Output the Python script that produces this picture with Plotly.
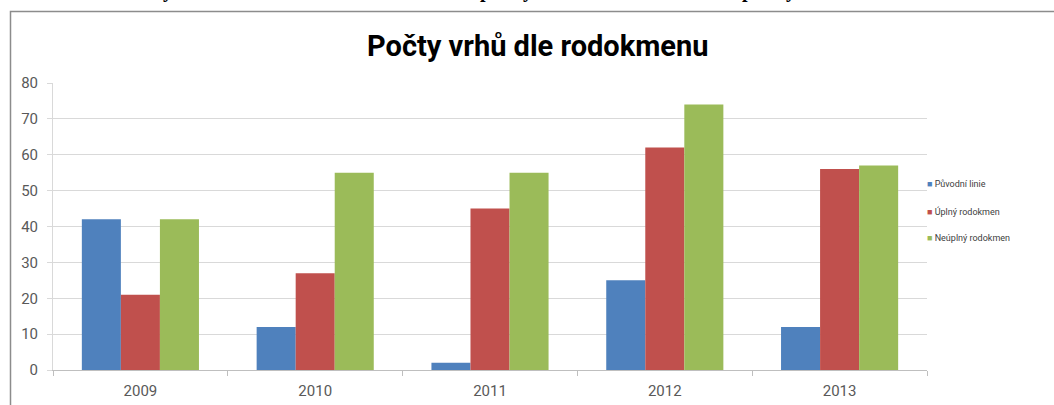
import plotly.graph_objects as go

# data
years = ["2009", "2010", "2011", "2012", "2013"]
puvodni_linie = [42, 12, 2, 25, 12]
uplny_rodokmen = [21, 27, 45, 62, 56]
neuplny_rodokmen = [42, 55, 55, 74, 57]

series_names = ["Původní linie", "Úplný rodokmen", "Neúplný rodokmen"]
series_colors = ["#4f81bd", "#c0504d", "#9bbb59"]
y_ticks = [0, 10, 20, 30, 40, 50, 60, 70, 80]

# fragments of the document line cut off above the chart
top_fragments = ["y", "p", "y", "p", "y"]
top_fragment_x = [168, 485, 528, 747, 791]

W, H = 1054, 405
PX0, PX1, PY0, PY1 = 53, 927, 83, 370   # plot area in window pixels
pw, ph = PX1 - PX0, PY1 - PY0


def px_x(x):
    return (x - PX0) / pw


def px_y(y):
    return (PY1 - y) / ph


fig = go.Figure()
for name, vals, color in zip(series_names, [puvodni_linie, uplny_rodokmen, neuplny_rodokmen], series_colors):
    fig.add_trace(go.Bar(x=years, y=vals, name=name, marker_color=color,
                         marker_line_width=0, showlegend=False))

fig.update_layout(
    width=W, height=H,
    margin=dict(l=PX0, r=W - PX1, t=PY0, b=H - PY1),
    paper_bgcolor="white", plot_bgcolor="white",
    barmode="group", bargap=0.33, bargroupgap=0,
    font=dict(family="Roboto, Open Sans, sans-serif", color="#595959"),
)
fig.update_yaxes(range=[0, 80], tickvals=y_ticks, showgrid=True, gridcolor="#d9d9d9", gridwidth=1,
                 showline=True, linecolor="#d9d9d9", ticks="outside", ticklen=5, tickcolor="#d9d9d9",
                 tickfont=dict(size=15, color="#595959"), ticklabelstandoff=6, zeroline=False,
                 automargin=False, fixedrange=True)
fig.update_xaxes(showline=True, linecolor="#bfbfbf", ticks="outside", ticklen=5, tickcolor="#bfbfbf",
                 tickson="boundaries", tickfont=dict(size=15, color="#595959"), ticklabelstandoff=7,
                 automargin=False)

# title
fig.add_annotation(text="<b>Počty vrhů dle rodokmenu</b>", xref="paper", yref="paper",
                   x=px_x(538), y=px_y(46), xanchor="center", yanchor="middle", showarrow=False,
                   font=dict(size=29, color="#000000", family="Roboto, sans-serif"))

# legend on the right
legend_y = [184, 211, 238]
for name, color, ly in zip(series_names, series_colors, legend_y):
    fig.add_annotation(text=f"<span style='color:{color}'>■</span> {name}", xref="paper", yref="paper",
                       x=px_x(925), y=px_y(ly), xanchor="left", yanchor="middle", showarrow=False,
                       font=dict(size=9, color="#404040"))

# chart frame
fig.add_shape(type="rect", xref="paper", yref="paper", x0=px_x(10.5), x1=px_x(1100),
              y0=px_y(460), y1=px_y(11.5), line=dict(color="#8c8c8c", width=1.5), layer="below")

for ch, fx in zip(top_fragments, top_fragment_x):
    fig.add_annotation(text=f"<b>{ch}</b>", xref="paper", yref="paper", x=px_x(fx), y=px_y(4),
                       xanchor="center", yanchor="bottom", showarrow=False,
                       font=dict(size=20, color="#000000", family="Liberation Serif, serif"))

# page body margin off, so the figure sits at the window corner
fig.write_html("out.html", config={"displayModeBar": False},
               post_script="document.body.style.margin='0px';")
